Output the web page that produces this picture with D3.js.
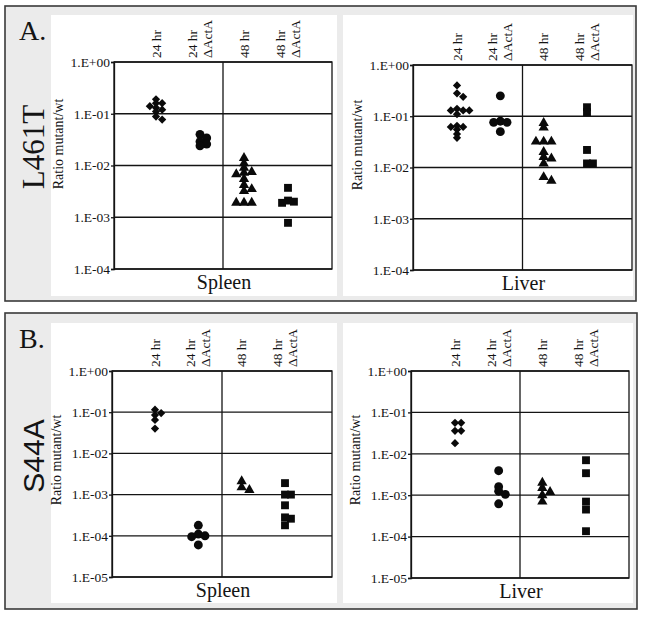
<!DOCTYPE html>
<html><head><meta charset="utf-8">
<script src="https://cdn.jsdelivr.net/npm/d3@7"></script>
<style>
html,body{margin:0;padding:0;background:#fff;}
svg{display:block;}
</style></head>
<body>
<svg id="chart" width="645" height="619"></svg>
<script>
// ---------------- DATA ----------------
const categories = [["24 hr"], ["24 hr", "\u0394ActA"], ["48 hr"], ["48 hr", "\u0394ActA"]];
const shapes = ["diamond", "circle", "triangle", "square"];
const tickLabelsA = ["1.E+00", "1.E-01", "1.E-02", "1.E-03", "1.E-04"];
const tickLabelsB = ["1.E+00", "1.E-01", "1.E-02", "1.E-03", "1.E-04", "1.E-05"];
const yTitle = "Ratio mutant/wt";
const organLabels = ["Spleen", "Liver"];
const panelLetters = ["A.", "B."];
const mutants = ["L461T", "S44A"];

// A: L461T, spleen
const aSpleen24 = [0.19, 0.16, 0.16, 0.14, 0.13, 0.12, 0.11, 0.088, 0.077];
const aSpleen24d = [0.040, 0.034, 0.029, 0.026, 0.024];
const aSpleen48 = [0.014, 0.011, 0.009, 0.0072, 0.0068, 0.0075, 0.0055, 0.0042, 0.0035, 0.0032, 0.0019, 0.0019, 0.0019];
const aSpleen48d = [0.0037, 0.0021, 0.0020, 0.0019, 0.00078];
// A: L461T, liver
const aLiver24 = [0.40, 0.28, 0.24, 0.14, 0.13, 0.13, 0.13, 0.11, 0.065, 0.062, 0.062, 0.055, 0.045, 0.038];
const aLiver24d = [0.25, 0.080, 0.076, 0.076, 0.050];
const aLiver48 = [0.074, 0.060, 0.032, 0.032, 0.032, 0.020, 0.016, 0.015, 0.012, 0.0065, 0.0055];
const aLiver48d = [0.15, 0.12, 0.022, 0.012, 0.012];
// B: S44A, spleen
const bSpleen24 = [0.115, 0.095, 0.085, 0.065, 0.040];
const bSpleen24d = [0.00018, 0.00011, 0.00010, 0.000095, 0.00006];
const bSpleen48 = [0.0021, 0.0015, 0.0013];
const bSpleen48d = [0.0019, 0.0010, 0.0010, 0.00055, 0.00028, 0.00026, 0.00018];
// B: S44A, liver
const bLiver24 = [0.056, 0.056, 0.036, 0.036, 0.018];
const bLiver24d = [0.0039, 0.0016, 0.00125, 0.00105, 0.00062];
const bLiver48 = [0.0020, 0.0015, 0.0012, 0.0010, 0.0007];
const bLiver48d = [0.007, 0.0034, 0.0007, 0.00045, 0.000135];

// ---------------- LAYOUT ----------------
const svg = d3.select("#chart");
const serif = "'Liberation Serif','Times New Roman',serif";
const sans = "'Liberation Sans',Arial,sans-serif";
const ink = "#141414";

const frames = [
  {x0: 5, y0: 6, x1: 636, y1: 301, wy0: 15, wy1: 296, letterY: 40, mutY: 147, mutFont: serif, mutSize: 31},
  {x0: 5, y0: 313, x1: 637, y1: 609, wy0: 323, wy1: 603, letterY: 348, mutY: 456, mutFont: sans, mutSize: 30}
];

frames.forEach((f, i) => {
  svg.append("rect").attr("x", f.x0).attr("y", f.y0).attr("width", f.x1 - f.x0).attr("height", f.y1 - f.y0)
    .attr("fill", "#ebebeb").attr("stroke", "#3a3a3a").attr("stroke-width", 1.6);
  svg.append("rect").attr("x", 51).attr("y", f.wy0).attr("width", 286).attr("height", f.wy1 - f.wy0).attr("fill", "#fff");
  svg.append("rect").attr("x", 343).attr("y", f.wy0).attr("width", 290).attr("height", f.wy1 - f.wy0).attr("fill", "#fff");
  svg.append("text").attr("x", 19).attr("y", f.letterY).text(panelLetters[i])
    .attr("font-family", serif).attr("font-size", 28).attr("fill", ink);
  svg.append("text").attr("transform", `translate(44,${f.mutY}) rotate(-90)`).attr("text-anchor", "middle")
    .text(mutants[i]).attr("font-family", f.mutFont).attr("font-size", f.mutSize).attr("fill", ink);
});

const panels = [
  {l: 114, t: 62, r: 332, b: 269, ticks: tickLabelsA, series: [aSpleen24, aSpleen24d, aSpleen48, aSpleen48d], organ: 0, colL: 42, colR: 44, titleY: 144},
  {l: 413, t: 65, r: 632, b: 270, ticks: tickLabelsA, series: [aLiver24, aLiver24d, aLiver48, aLiver48d], organ: 1, colL: 44, colR: 45, titleY: 145},
  {l: 112, t: 371, r: 332, b: 577, ticks: tickLabelsB, series: [bSpleen24, bSpleen24d, bSpleen48, bSpleen48d], organ: 0, colL: 43, colR: 47, titleY: 460},
  {l: 411, t: 371, r: 629, b: 578, ticks: tickLabelsB, series: [bLiver24, bLiver24d, bLiver48, bLiver48d], organ: 1, colL: 44, colR: 43, titleY: 460}
];

const symSize = {diamond: 34, circle: 62, triangle: 46, square: 62};
const symType = {diamond: d3.symbolSquare, circle: d3.symbolCircle, triangle: d3.symbolTriangle, square: d3.symbolSquare};
const symWidth = {diamond: 8.2, circle: 8.9, triangle: 10.3, square: 7.9};

function dodge(ys, w) {
  const order = ys.map((y, i) => i).sort((a, b) => ys[a] - ys[b]);
  const placed = [], offs = new Array(ys.length).fill(0);
  const cands = [0];
  for (let j = 1; j < 8; j++) { cands.push(j * w * 0.75, -j * w * 0.75); }
  for (const i of order) {
    const y = ys[i];
    let off = 0;
    for (const c of cands) {
      if (!placed.some(p => Math.abs(p.x - c) < w * 0.7 && Math.abs(p.y - y) < w * 0.42)) { off = c; break; }
    }
    placed.push({x: off, y: y});
    offs[i] = off;
  }
  return offs;
}

panels.forEach(p => {
  const nDec = p.ticks.length - 1;
  const tickVals = d3.range(0, nDec + 1).map(k => Math.pow(10, -k));
  const y = d3.scaleLog().domain([Math.pow(10, -nDec), 1]).range([p.b, p.t]);
  const x = d3.scalePoint().domain(d3.range(categories.length)).range([p.l + p.colL, p.r - p.colR]);
  const g = svg.append("g");

  // grid lines
  g.selectAll("line.grid").data(tickVals).join("line")
    .attr("x1", p.l).attr("x2", p.r).attr("y1", d => y(d)).attr("y2", d => y(d))
    .attr("stroke", ink).attr("stroke-width", 1.3);
  // divider and frame
  const mid = (p.l + p.r) / 2;
  g.append("line").attr("x1", mid).attr("x2", mid).attr("y1", p.t).attr("y2", p.b).attr("stroke", ink).attr("stroke-width", 1.3);
  g.append("rect").attr("x", p.l).attr("y", p.t).attr("width", p.r - p.l).attr("height", p.b - p.t)
    .attr("fill", "none").attr("stroke", ink).attr("stroke-width", 1.3);

  // y axis
  const ax = g.append("g").attr("transform", `translate(${p.l},0)`)
    .call(d3.axisLeft(y).tickValues(tickVals).tickFormat((d, i) => p.ticks[i]).tickSize(3).tickPadding(1));
  ax.select(".domain").attr("stroke", ink).attr("stroke-width", 1.3);
  ax.selectAll(".tick line").attr("stroke", ink).attr("stroke-width", 1.3);
  ax.selectAll(".tick text").attr("font-family", serif).attr("font-size", 13.5).attr("fill", ink);

  // y title
  g.append("text").attr("transform", `translate(${p.l - 51},${p.titleY}) rotate(-90)`).attr("text-anchor", "middle")
    .text(yTitle).attr("font-family", serif).attr("font-size", 14).attr("fill", ink);

  // column labels
  categories.forEach((lines, ci) => {
    lines.forEach((s, li) => {
      const cx = x(ci) + (lines.length === 1 ? 0 : (li === 0 ? -7.5 : 7.5));
      g.append("text").attr("transform", `translate(${cx},${p.t - 4}) rotate(-90)`)
        .attr("dominant-baseline", "central").attr("text-anchor", "start")
        .text(s).attr("font-family", serif).attr("font-size", 13.5).attr("fill", ink);
    });
  });

  // organ label
  g.append("text").attr("x", mid + 1).attr("y", p.b + 20).attr("text-anchor", "middle")
    .text(organLabels[p.organ]).attr("font-family", serif).attr("font-size", 20).attr("fill", ink);

  // points
  p.series.forEach((vals, si) => {
    const shp = shapes[si];
    const ys = vals.map(v => y(v));
    const offs = dodge(ys, symWidth[shp]);
    const sym = d3.symbol().type(symType[shp]).size(symSize[shp]);
    g.selectAll(null).data(vals).join("path")
      .attr("d", sym)
      .attr("transform", (d, i) => `translate(${x(si) + offs[i]},${ys[i]})` + (shp === "diamond" ? " rotate(45)" : ""))
      .attr("fill", "#0a0a0a");
  });
});
</script>
</body></html>
